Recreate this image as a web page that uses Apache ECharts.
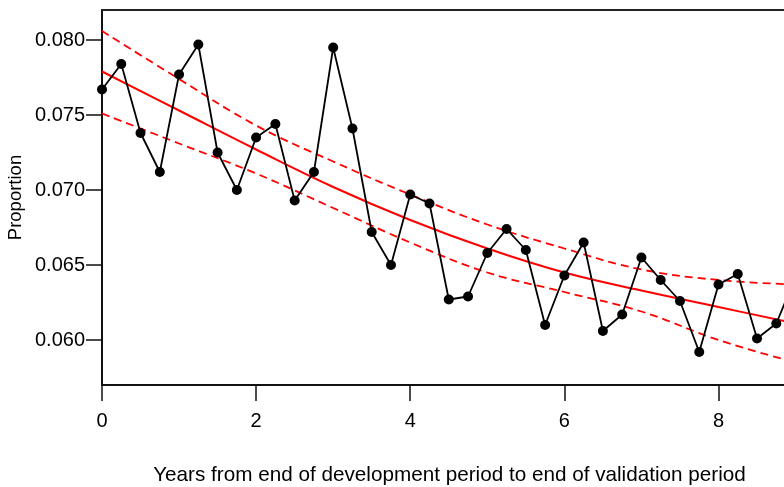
<!DOCTYPE html>
<html>
<head>
<meta charset="utf-8">
<script src="https://cdn.jsdelivr.net/npm/echarts@6/dist/echarts.min.js"></script>
<style>
  html, body { margin: 0; padding: 0; background: #fff; }
  #chart { width: 784px; height: 487px; }
</style>
</head>
<body>
<div id="chart"></div>
<script>
// Observed proportion, every quarter year
const years = [0, 0.25, 0.5, 0.75, 1, 1.25, 1.5, 1.75, 2, 2.25, 2.5, 2.75, 3, 3.25, 3.5, 3.75,
  4, 4.25, 4.5, 4.75, 5, 5.25, 5.5, 5.75, 6, 6.25, 6.5, 6.75, 7, 7.25, 7.5, 7.75,
  8, 8.25, 8.5, 8.75, 9];
const proportion = [0.0767, 0.0784, 0.0738, 0.0712, 0.0777, 0.0797, 0.0725, 0.0700, 0.0735, 0.0744,
  0.0693, 0.0712, 0.0795, 0.0741, 0.0672, 0.0650, 0.0697, 0.0691, 0.0627, 0.0629,
  0.0658, 0.0674, 0.0660, 0.0610, 0.0643, 0.0665, 0.0606, 0.0617, 0.0655, 0.0640,
  0.0626, 0.0592, 0.0637, 0.0644, 0.0601, 0.0611, 0.0642];

// Fitted trend with its confidence band, at whole years
const fitYears = [0, 1, 2, 3, 4, 5, 6, 7, 8, 9];
const fitted = [0.0779, 0.0753, 0.0727, 0.0702, 0.0680, 0.0661, 0.0645, 0.0633, 0.0622, 0.0611];
const upperBand = [0.0806, 0.0774, 0.0743, 0.0719, 0.0697, 0.0677, 0.0661, 0.0647, 0.0640, 0.0637];
const lowerBand = [0.0751, 0.0731, 0.0711, 0.0688, 0.0665, 0.0645, 0.0632, 0.0619, 0.0600, 0.0585];

const yTicks = [0.060, 0.065, 0.070, 0.075, 0.080];

const pairs = (xs, ys) => xs.map((x, i) => [x, ys[i]]);
const font = 'Liberation Sans, Arial, sans-serif';

const chart = echarts.init(document.getElementById('chart'), null, { renderer: 'canvas' });
chart.setOption({
  animation: false,
  backgroundColor: '#ffffff',
  grid: { left: 102, right: 0, top: 10, bottom: 102, containLabel: false, outerBoundsMode: 'none' },
  xAxis: [{
    type: 'value', min: 0, max: 8.85, interval: 2,
    axisLine: { show: true, onZero: false, lineStyle: { color: '#111', width: 2 } },
    axisTick: { show: true, length: 16, lineStyle: { color: '#111', width: 1.5 } },
    axisLabel: { color: '#000', fontSize: 20, fontFamily: font, margin: 26,
      showMaxLabel: false },
    splitLine: { show: false },
    name: 'Years from end of development period to end of validation period',
    nameLocation: 'middle', nameGap: 80, nameMoveOverlap: false,
    nameTextStyle: { color: '#000', fontSize: 20.7, fontFamily: font, padding: [0, 0, 0, 13] }
  }, {
    type: 'value', position: 'top', min: 0, max: 8.85,
    axisLine: { show: true, lineStyle: { color: '#222', width: 2 } },
    axisTick: { show: false }, axisLabel: { show: false }, splitLine: { show: false }
  }],
  yAxis: {
    type: 'value', min: 0.057, max: 0.082,
    axisLine: { show: true, onZero: false, lineStyle: { color: '#111', width: 2 } },
    axisTick: { show: true, length: 16, customValues: yTicks, lineStyle: { color: '#111', width: 1.5 } },
    axisLabel: { color: '#000', fontSize: 20, fontFamily: font, margin: 17,
      customValues: yTicks, formatter: v => v.toFixed(3) },
    splitLine: { show: false },
    name: 'Proportion', nameLocation: 'middle', nameGap: 77, nameRotate: 90,
    nameMoveOverlap: false,
    nameTextStyle: { color: '#000', fontSize: 18.5, fontFamily: font }
  },
  series: [
    {
      name: 'Upper', type: 'line', data: pairs(fitYears, upperBand), smooth: 0.4,
      symbol: 'none', lineStyle: { color: '#ff0000', width: 1.8, type: [8, 5] }, z: 2
    },
    {
      name: 'Lower', type: 'line', data: pairs(fitYears, lowerBand), smooth: 0.4,
      symbol: 'none', lineStyle: { color: '#ff0000', width: 1.8, type: [8, 5] }, z: 2
    },
    {
      name: 'Fitted', type: 'line', data: pairs(fitYears, fitted), smooth: 0.4,
      symbol: 'none', lineStyle: { color: '#ff0000', width: 2 }, z: 3
    },
    {
      name: 'Observed', type: 'line', data: pairs(years, proportion),
      symbol: 'circle', symbolSize: 10, showAllSymbol: true,
      itemStyle: { color: '#000' }, lineStyle: { color: '#000', width: 1.8 }, z: 4
    }
  ]
});
</script>
</body>
</html>
